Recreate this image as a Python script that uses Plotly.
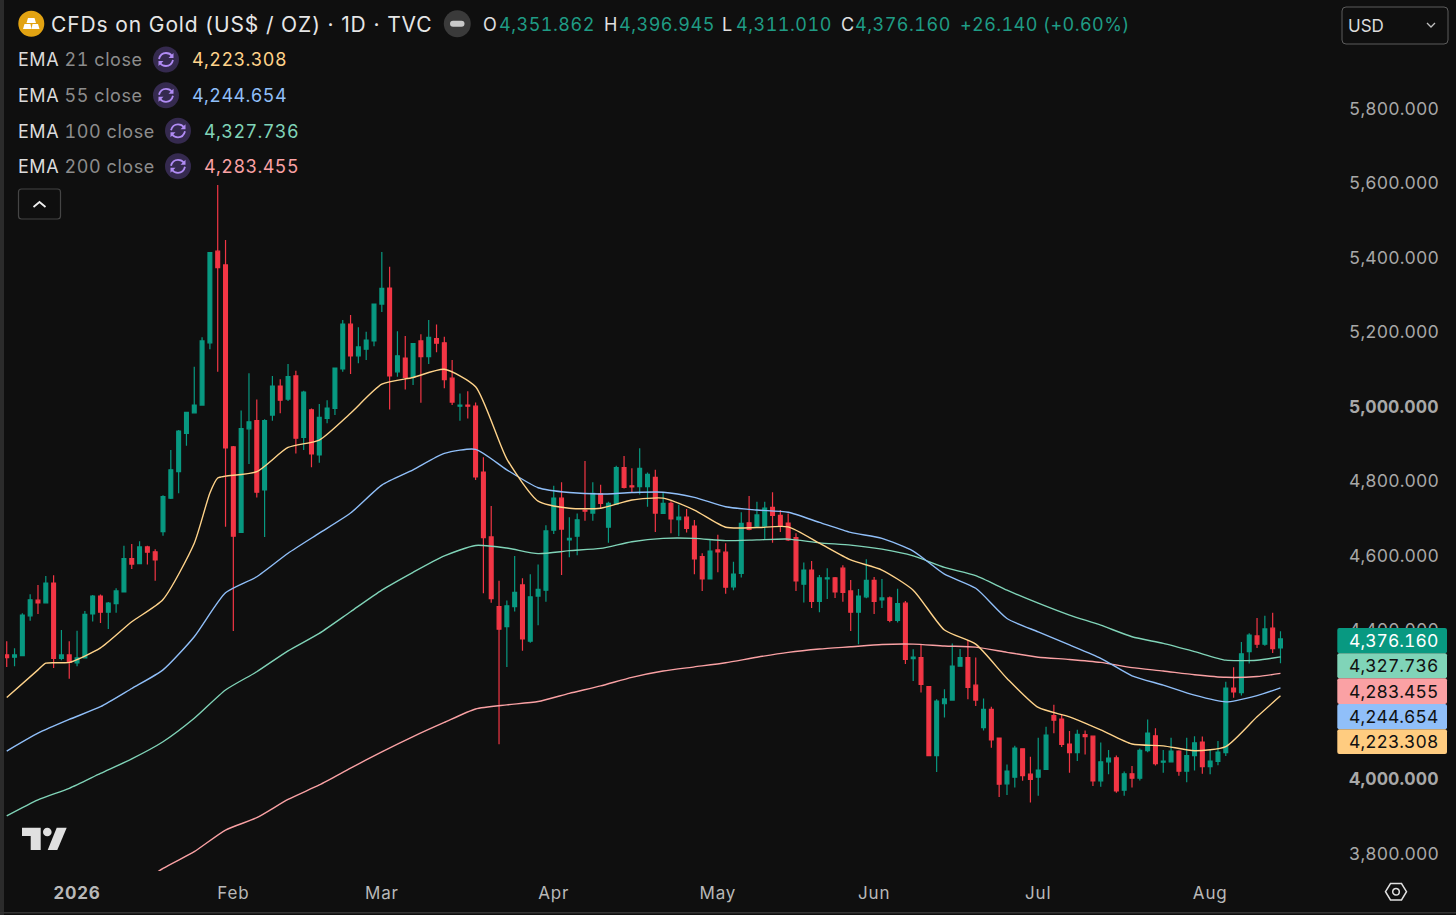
import pandas as pd
import plotly.graph_objects as go

# gold daily bars
closed_days = ["2025-12-25", "2026-01-01", "2026-01-19", "2026-02-16", "2026-04-03",
               "2026-05-25", "2026-06-19", "2026-07-03"]
all_days = pd.bdate_range("2025-12-18", "2026-08-14")
dates = [d.strftime("%Y-%m-%d") for d in all_days if d.strftime("%Y-%m-%d") not in closed_days]

opens = [4333,4327,4331,4438,4480,4473,4526,4324,4333,4312,
         4325,4443,4491,4448,4471,4502,4592,4578,4623,4610,
         4664,4754,4825,4928,4983,5004,5171,5417,5380,4892,
         4662,4940,4962,4776,4977,5055,5020,5082,4917,4991,
         4870,4968,4995,5101,5221,5136,5154,5176,5275,5318,
         5093,5130,5080,5176,5134,5182,5171,5076,5001,5004,
         5001,4824,4650,4463,4409,4463,4521,4370,4491,4507,
         4668,4754,4642,4652,4722,4714,4766,4676,4738,4836,
         4787,4785,4785,4810,4713,4740,4696,4703,4679,4597,
         4537,4615,4609,4516,4552,4688,4679,4679,4729,4708,
         4687,4648,4523,4561,4477,4537,4540,4566,4505,4448,
         4489,4533,4481,4486,4426,4472,4323,4326,4248,4063,
         4202,4212,4303,4326,4252,4138,4187,4110,3987,4005,
         4081,4013,4005,4026,4170,4161,4094,4071,4119,4115,
         3995,4046,4057,3970,4014,4002,4076,4116,4045,4046,
         4075,4021,4063,4099,4033,4047,4071,4244,4232,4342,
         4384,4362,4405,4351.862]
highs = [4370,4351,4445,4496,4521,4545,4547,4400,4370,4398,
         4451,4494,4495,4475,4512,4626,4631,4638,4626,4617,
         4762,4883,4937,4985,5107,5186,5413,5595,5447,4894,
         4989,5089,5019,4966,5082,5073,5114,5096,5042,4995,
         5007,5017,5103,5232,5246,5213,5201,5275,5415,5375,
         5202,5189,5170,5194,5232,5220,5187,5125,5035,5041,
         5011,4864,4733,4532,4479,4599,4539,4550,4576,4681,
         4787,4797,4703,4713,4854,4797,4790,4744,4841,4867,
         4834,4888,4823,4830,4769,4746,4736,4725,4695,4606,
         4641,4656,4633,4583,4716,4760,4744,4744,4770,4722,
         4713,4660,4581,4585,4548,4566,4542,4574,4534,4510,
         4590,4542,4537,4490,4511,4478,4348,4360,4250,4214,
         4241,4364,4349,4373,4326,4216,4194,4111,4039,4089,
         4082,4060,4111,4140,4199,4174,4129,4132,4130,4116,
         4098,4078,4063,4020,4035,4082,4160,4136,4078,4111,
         4077,4111,4115,4114,4078,4102,4261,4300,4368,4391,
         4432,4438,4446,4396.945]
lows = [4301,4303,4331,4425,4443,4473,4298,4319,4269,4303,
        4324,4423,4419,4403,4446,4502,4564,4578,4576,4532,
        4653,4752,4767,4895,4983,5004,5154,5093,4677,4397,
        4662,4846,4756,4650,4962,4982,5015,4874,4883,4837,
        4849,4955,4977,5093,5087,5116,5125,5162,5254,4992,
        5080,5046,5058,5010,5114,5146,5049,5004,4962,4968,
        4803,4499,4473,4093,4301,4450,4344,4366,4413,4476,
        4658,4548,4595,4601,4693,4693,4725,4634,4738,4780,
        4770,4764,4731,4663,4713,4660,4652,4662,4550,4505,
        4537,4555,4497,4507,4541,4668,4674,4643,4634,4663,
        4639,4505,4474,4459,4448,4483,4486,4476,4397,4362,
        4485,4443,4459,4421,4420,4309,4263,4232,4062,4019,
        4165,4212,4303,4214,4196,4130,4084,3952,3957,3977,
        3995,3937,3955,4026,4123,4086,4017,4048,4066,3981,
        3979,4013,3963,3955,3977,3996,4072,4036,4017,4045,
        4009,3991,4023,4014,4013,4037,4062,4218,4224,4310,
        4352,4358,4338,4311.01]
closes = [4326,4333,4440,4481,4473,4526,4324,4333,4313,4325,
          4442,4491,4448,4472,4505,4592,4577,4623,4609,4588,
          4758,4830,4934,4984,5004,5176,5413,5373,4889,4652,
          4941,4959,4770,4962,5055,5017,5080,4915,5039,4873,
          4971,4996,5103,5221,5136,5160,5178,5275,5317,5082,
          5136,5078,5169,5134,5186,5170,5072,5012,5004,5001,
          4811,4648,4484,4402,4465,4501,4376,4489,4509,4666,
          4754,4671,4646,4696,4719,4767,4740,4740,4836,4783,
          4784,4834,4818,4714,4740,4698,4703,4673,4591,4537,
          4612,4610,4515,4550,4686,4670,4709,4727,4708,4679,
          4642,4532,4561,4477,4540,4540,4502,4501,4448,4491,
          4533,4477,4486,4426,4471,4321,4327,4254,4063,4209,
          4215,4303,4326,4246,4212,4187,4105,3986,4021,4083,
          4009,3999,4024,4118,4158,4093,4071,4120,4114,3995,
          4046,4056,3968,4014,4002,4077,4123,4041,4048,4075,
          4021,4063,4097,4033,4048,4072,4244,4234,4336,4386,
          4362,4403,4350.02,4376.16]

# EMA lines, read every fourth bar (a few more where the 21 bends hard)
ema_bars = [0,4,8,12,16,20,24,28,32,36,40,44,48,52,56,60,64,68,72,76,80,84,
            88,92,96,100,104,108,112,116,120,124,128,132,136,140,144,148,152,156,160,163]
ema21_bars = [0,4,5,8,12,16,20,24,26,27,28,32,36,40,44,48,52,56,60,64,68,72,76,80,84,
              88,92,96,100,104,108,112,116,120,124,128,132,136,140,144,148,152,156,160,163]
ema21 = [4219,4293,4311,4313,4352,4422,4482,4633,4768,4808,4813,4825,4890,4910,4982,5060,5078,5100,5053,4859,4746,4727,4727,4749,4754,
         4722,4676,4675,4677,4633,4588,4561,4507,4400,4362,4270,4192,4167,4132,4094,4089,4076,4087,4167,4223.308]
ema55 = [4075,4123,4160,4194,4243,4293,4382,4500,4543,4606,4660,4714,4789,4830,4874,4885,4830,4782,4769,4765,4769,4770,
         4756,4731,4722,4716,4689,4662,4646,4612,4550,4512,4431,4395,4360,4324,4277,4252,4225,4207,4224,4244.654]
ema100 = [3901,3944,3975,4015,4054,4100,4163,4239,4288,4344,4391,4449,4507,4555,4599,4627,4620,4605,4613,4619,4637,4646,
          4646,4640,4642,4644,4634,4628,4617,4599,4568,4546,4507,4472,4440,4413,4382,4364,4342,4319,4319,4327.736]
ema200_bars = ema_bars[4:]
ema200 = [3702,3760,3805,3863,3896,3945,3984,4029,4073,4114,4152,4188,4199,4208,4230,4250,4273,4290,
          4301,4312,4327,4340,4349,4355,4361,4362,4357,4354,4340,4327,4321,4313,4299,4290,4280,4273,4275,4283.455]

ema_periods = [21, 55, 100, 200]
ema_last = ["4,223.308", "4,244.654", "4,327.736", "4,283.455"]
ohlc_text = ["4,351.862", "4,396.945", "4,311.010", "4,376.160"]
change_text = "+26.140 (+0.60%)"
title_text = "CFDs on Gold (US$ / OZ) · 1D · TVC"

y_ticks = [3800, 4000, 4200, 4400, 4600, 4800, 5000, 5200, 5400, 5600, 5800]
month_ticks = ["2026-01-02", "2026-02-02", "2026-03-02", "2026-04-01", "2026-05-01",
               "2026-06-01", "2026-07-01", "2026-08-03"]
month_labels = ["<b>2026</b>", "Feb", "Mar", "Apr", "May", "Jun", "Jul", "Aug"]

BG = "#0f0f0f"
UP = "#089981"
DOWN = "#f23645"
YELLOW = "#ffd38a"
BLUE = "#90bff9"
TEAL = "#80d4b8"
PINK = "#faa1a4"
FONT = "Inter"

# plot box in page pixels
L, R, T, B = 5, 1348, 2, 871


def px(x):
    return (x - L) / (R - L)


def py(y):
    return 1 - (y - T) / (B - T)


def spaced(text, gap, tnum=True):
    nums = "font-variant-numeric:tabular-nums;font-feature-settings:'tnum';" if tnum else ""
    return f'<span style="letter-spacing:{gap}px;{nums}">{text}</span>'


def path(points, close=True):
    s = "M " + " L ".join(f"{px(x)},{py(y)}" for x, y in points)
    return s + " Z" if close else s


def round_rect(x0, y0, x1, y1, r):
    return (f"M {px(x0 + r)},{py(y0)} L {px(x1 - r)},{py(y0)} Q {px(x1)},{py(y0)} {px(x1)},{py(y0 + r)} "
            f"L {px(x1)},{py(y1 - r)} Q {px(x1)},{py(y1)} {px(x1 - r)},{py(y1)} "
            f"L {px(x0 + r)},{py(y1)} Q {px(x0)},{py(y1)} {px(x0)},{py(y1 - r)} "
            f"L {px(x0)},{py(y0 + r)} Q {px(x0)},{py(y0)} {px(x0 + r)},{py(y0)} Z")


def shape_path(d, fill=None, line=None, width=1):
    return dict(type="path", xref="paper", yref="paper", path=d, layer="above",
                fillcolor=fill if fill else "rgba(0,0,0,0)",
                line=dict(color=line if line else "rgba(0,0,0,0)", width=width if line else 0))


def circle(cx, cy, r, fill=None, line=None, width=1):
    return dict(type="circle", xref="paper", yref="paper", layer="above",
                x0=px(cx - r), x1=px(cx + r), y0=py(cy + r), y1=py(cy - r),
                fillcolor=fill if fill else "rgba(0,0,0,0)",
                line=dict(color=line if line else "rgba(0,0,0,0)", width=width if line else 0))


def label(x, y, text, color, size=18, anchor="left"):
    return dict(xref="paper", yref="paper", x=px(x), y=py(y), text=text, showarrow=False,
                xanchor=anchor, yanchor="middle", borderpad=0, borderwidth=0,
                font=dict(family=FONT, size=size, color=color))


fig = go.Figure()
fig.add_trace(go.Candlestick(x=dates, open=opens, high=highs, low=lows, close=closes,
                             whiskerwidth=0, showlegend=False,
                             increasing=dict(line=dict(color=UP, width=1.2), fillcolor=UP),
                             decreasing=dict(line=dict(color=DOWN, width=1.2), fillcolor=DOWN)))

for bars, vals, col in [(ema200_bars, ema200, PINK), (ema_bars, ema100, TEAL),
                        (ema_bars, ema55, BLUE), (ema21_bars, ema21, YELLOW)]:
    fig.add_trace(go.Scatter(x=[dates[b] for b in bars], y=vals, mode="lines", showlegend=False,
                             line=dict(color=col, width=1.4, shape="spline", smoothing=0.6)))

shapes = []
annotations = []

# frame edges
shapes.append(dict(type="rect", xref="paper", yref="paper", layer="above", x0=px(0), x1=px(4), y0=py(915), y1=py(0),
                   fillcolor="#2b2b2b", line=dict(width=0)))
shapes.append(dict(type="rect", xref="paper", yref="paper", layer="above", x0=px(0), x1=px(1456), y0=py(913.5), y1=py(912),
                   fillcolor="#333333", line=dict(width=0)))

# header
shapes.append(circle(31.3, 23.7, 13, fill="#e2a312"))
shapes.append(shape_path(path([(28, 18), (34.5, 18), (36, 23), (26.5, 23)]), fill="#ffffff"))
shapes.append(shape_path(path([(24.5, 24), (30.5, 24), (31.5, 29), (23, 29)]), fill="#ffffff"))
shapes.append(shape_path(path([(32.5, 24), (38, 24), (39.5, 29), (31.5, 29)]), fill="#ffffff"))
annotations.append(label(51, 24.5, spaced(title_text, 0.88, tnum=False), "#e6e6e6", size=21))
shapes.append(circle(457.3, 23.7, 13.5, fill="#3a3a3a"))
shapes.append(shape_path(round_rect(450, 20.7, 464.5, 26.7, 3), fill="#c9c9c9"))

ohlc_x = [(483, 499), (604, 619), (722, 736), (841, 855)]
for (lx, vx), letter, val in zip(ohlc_x, ["O", "H", "L", "C"], ohlc_text):
    annotations.append(label(lx, 24.5, letter, "#e0e0e0"))
    annotations.append(label(vx, 24.5, spaced(val, 0.5), "#1f9c85"))
annotations.append(label(960, 24.5, spaced(change_text, 0.42), "#1f9c85"))

# EMA legend rows
rows = [(60, 166, 192, YELLOW), (95.8, 166, 192, BLUE), (131.3, 178, 204, TEAL), (166.8, 178, 204, PINK)]
for (ry, cx, vx, col), period, val in zip(rows, ema_periods, ema_last):
    annotations.append(label(18, ry, spaced(f'EMA <span style="color:#8c8c8c">{period} close</span>', 0.55), "#dcdcdc"))
    annotations.append(label(vx, ry, spaced(val, 0.4), col))
    shapes.append(circle(cx, ry - 0.5, 13, fill="#352a4f"))
    top = [(cx - 7, ry - 1), (cx - 5.5, ry - 7), (cx, ry - 7), (cx + 4, ry - 7), (cx + 6, ry - 4)]
    shapes.append(shape_path(f"M {px(top[0][0])},{py(top[0][1])} Q {px(top[1][0])},{py(top[1][1])} {px(top[2][0])},{py(top[2][1])} "
                             f"Q {px(top[3][0])},{py(top[3][1])} {px(top[4][0])},{py(top[4][1])}", line="#b18cf5", width=1.8))
    bot = [(cx + 7, ry), (cx + 5.5, ry + 6), (cx, ry + 6), (cx - 4, ry + 6), (cx - 6, ry + 3)]
    shapes.append(shape_path(f"M {px(bot[0][0])},{py(bot[0][1])} Q {px(bot[1][0])},{py(bot[1][1])} {px(bot[2][0])},{py(bot[2][1])} "
                             f"Q {px(bot[3][0])},{py(bot[3][1])} {px(bot[4][0])},{py(bot[4][1])}", line="#b18cf5", width=1.8))
    shapes.append(shape_path(path([(cx + 7.5, ry - 7), (cx + 7.5, ry - 2), (cx + 2.5, ry - 2)]), fill="#b18cf5"))
    shapes.append(shape_path(path([(cx - 7.5, ry + 6), (cx - 7.5, ry + 1), (cx - 2.5, ry + 1)]), fill="#b18cf5"))

# collapse button
shapes.append(shape_path(round_rect(18.5, 189, 60.5, 219, 3), fill=BG, line="#454545", width=1.2))
shapes.append(shape_path(path([(33.5, 207), (39.5, 202), (45.5, 207)], close=False), line="#f0f0f0", width=1.8))

# currency box
shapes.append(shape_path(round_rect(1342, 7, 1448, 44, 4), fill=BG, line="#5c5c5c", width=1))
annotations.append(label(1348, 25.5, "USD", "#dcdcdc", size=17))
shapes.append(shape_path(path([(1427, 23), (1431, 27), (1435, 23)], close=False), line="#c0c0c0", width=1.3))

# price badges
badges = [(628, 653.3, UP, "#ffffff", ohlc_text[3]), (653.3, 678.3, TEAL, "#111111", ema_last[2]),
          (678.3, 704, PINK, "#111111", ema_last[3]), (704, 729.3, BLUE, "#111111", ema_last[1]),
          (729.3, 754, "#ffcc80", "#111111", ema_last[0])]
for y0, y1, col, txt, val in badges:
    shapes.append(shape_path(round_rect(1337.3, y0, 1447, y1, 2), fill=col))
    annotations.append(label(1438, (y0 + y1) / 2, spaced(val, 0.05), txt, size=17.5, anchor="right"))

# TradingView mark
shapes.append(shape_path(path([(22, 827.7), (40.7, 827.7), (40.7, 850), (30.7, 850), (30.7, 836), (22, 836)]), fill="#e0e0e0"))
shapes.append(circle(47.3, 832, 4.3, fill="#e0e0e0"))
shapes.append(shape_path(path([(56.7, 827.7), (66.7, 827.7), (57.3, 850), (47.7, 850)]), fill="#e0e0e0"))

# settings hexagon
shapes.append(shape_path(path([(1385.5, 891.7), (1390.5, 883.5), (1401.5, 883.5), (1406.5, 891.7), (1401.5, 900), (1390.5, 900)]),
                         line="#e0e0e0", width=1.5))
shapes.append(circle(1396, 891.7, 3.3, line="#e0e0e0", width=1.5))

y_labels = [spaced(f"<b>{v:,.3f}</b>", 0.12) if v in (4000, 5000) else spaced(f"{v:,.3f}", 0.12) for v in y_ticks]
x_labels = [spaced(t, 0.8, tnum=False) for t in month_labels]

fig.update_layout(width=1456, height=915, autosize=False,
                  margin=dict(l=L, r=1456 - R, t=T, b=915 - B, autoexpand=False),
                  paper_bgcolor=BG, plot_bgcolor=BG, showlegend=False, hovermode=False,
                  shapes=shapes, annotations=annotations,
                  font=dict(family=FONT, color="#b4b4b4"))
fig.update_xaxes(type="category", range=[-0.22, 171.64], rangeslider_visible=False, showgrid=False,
                 zeroline=False, showline=False, ticks="outside", ticklen=7, tickcolor="rgba(0,0,0,0)",
                 tickmode="array", tickvals=month_ticks,
                 ticktext=x_labels, tickangle=0, tickfont=dict(family=FONT, size=17, color="#b8b8b8"))
fig.update_yaxes(side="right", range=[3753, 6086], showgrid=False, zeroline=False, showline=False,
                 ticks="", tickmode="array", tickvals=y_ticks,
                 ticktext=y_labels, tickfont=dict(family=FONT, size=17.5, color="#a8a8a8"))

fig.write_html("out.html", config=dict(displayModeBar=False),
               post_script="document.body.style.margin='0';document.body.style.background='#0f0f0f';")
